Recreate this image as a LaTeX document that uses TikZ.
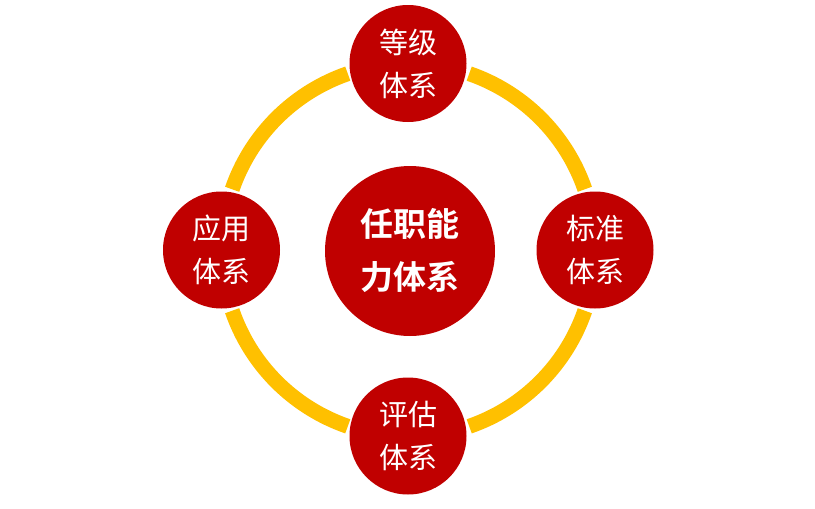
\documentclass[tikz,border=0pt]{standalone}
\usepackage{fontspec}
\usetikzlibrary{calc}
\newfontfamily\cjk{Noto Sans CJK SC}
\newfontfamily\cjkb{Noto Sans CJK SC Bold}
\definecolor{cred}{HTML}{C00000}
\definecolor{cyel}{HTML}{FFC000}
\begin{document}
\begin{tikzpicture}[x=1pt,y=-1pt,
  sat/.style={circle,fill=cred,minimum size=117pt,inner sep=0pt,text=white,align=center,
    font=\cjk\fontsize{29}{43}\selectfont},
  hub/.style={circle,fill=cred,minimum size=170pt,inner sep=0pt,text=white,align=center,
    font=\cjkb\fontsize{33}{53}\selectfont},
  ring/.style={draw=cyel,line width=15pt}]
\useasboundingbox (0,0) rectangle (815,509);
\coordinate (o) at (408.5,250);
\foreach \a in {0,90,180,270}{
  \draw[ring] ($(o)+(\a+19:186.5)$) arc[start angle=\a+19,end angle=\a+71,radius=186.5];
}
\node[sat] (top) at (408,63.5) {等级\\体系};
\node[sat] (bot) at (408,436) {评估\\体系};
\node[sat] (lft) at (221.5,250) {应用\\体系};
\node[sat] (rgt) at (595,250) {标准\\体系};
\node[hub] (hub) at (410,251) {任职能\\力体系};
\end{tikzpicture}
\end{document}
